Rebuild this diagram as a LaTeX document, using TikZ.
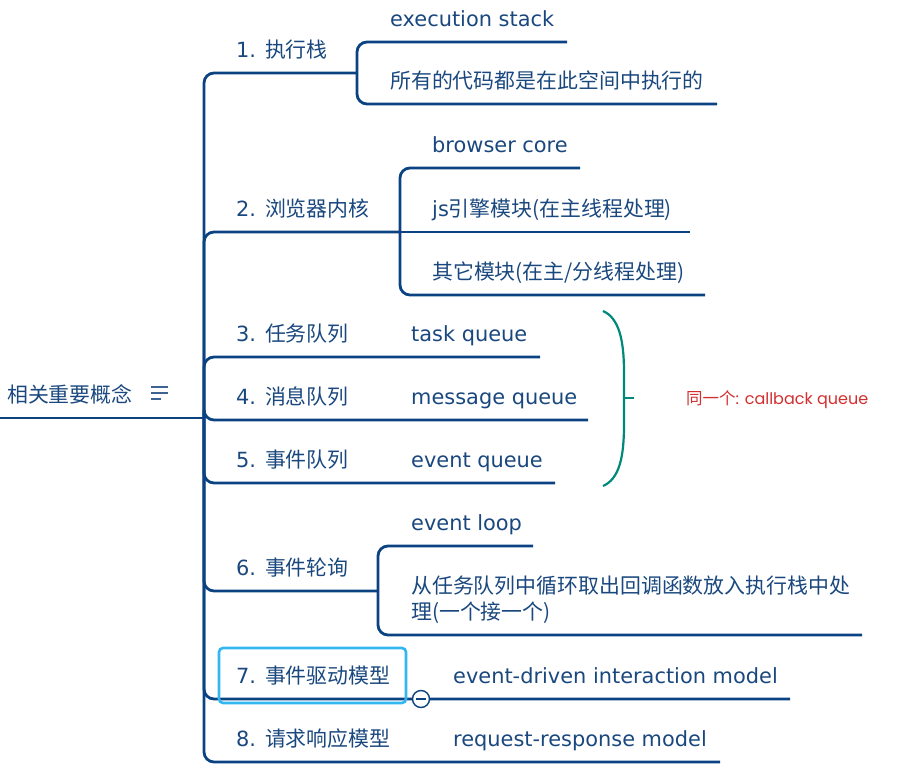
\documentclass[tikz,border=0pt]{standalone}
\usepackage{fontspec}
\setmainfont{DejaVu Sans}
\newfontfamily\cjk{Noto Sans CJK SC}
\newfontfamily\cmc{Poppins}

\begin{document}
\begin{tikzpicture}[x=1pt,y=-1pt]
\definecolor{linkblue}{RGB}{10,66,130}
\definecolor{txtblue}{RGB}{26,72,126}
\definecolor{hiblue}{RGB}{51,183,240}
\definecolor{braceteal}{RGB}{0,137,123}
\definecolor{notered}{RGB}{211,47,47}
\tikzset{
  lbl/.style={anchor=base west, inner sep=0pt, text=txtblue, font=\fontsize{20.9}{26}\selectfont},
  link/.style={draw=linkblue, line width=2.8pt, rounded corners=10pt},
  menuline/.style={draw=txtblue!85, line width=2.2pt},
  focus/.style={draw=hiblue, line width=2.6pt, rounded corners=4pt}
}
\useasboundingbox (0,0) rectangle (898,777);

% root
\node [lbl] (root) at (7,402) {\cjk 相关重要概念};
\draw [menuline] (151,387) -- (168,387);
\draw [menuline] (151,393) -- (168,393);
\draw [menuline] (151,399) -- (161,399);
\coordinate (hub) at (204,418);
\draw [link] (0,418) -- (hub);

% 1
\node [lbl] (b1) at (236,57) {1. {\cjk 执行栈}};
\coordinate (j1) at (357,73);
\draw [link] (hub) |- (j1);
\node [lbl] (c1a) at (390,26) {execution stack};
\node [lbl] (c1b) at (390,88) {\cjk 所有的代码都是在此空间中执行的};
\coordinate (e1a) at (567,42);
\coordinate (e1b) at (717,104);
\draw [link] (j1) |- (e1a);
\draw [link] (j1) |- (e1b);

% 2
\node [lbl] (b2) at (236,216) {2. {\cjk 浏览器内核}};
\coordinate (j2) at (400,232);
\draw [link] (hub) |- (j2);
\node [lbl] (c2a) at (432,152) {browser core};
\node [lbl] (c2b) at (432,216) {js{\cjk 引擎模块(在主线程处理)}};
\node [lbl] (c2c) at (432,279) {\cjk 其它模块(在主/分线程处理)};
\coordinate (e2a) at (580,168);
\coordinate (e2b) at (690,232);
\coordinate (e2c) at (705,295);
\draw [link] (j2) |- (e2a);
\draw [link] (j2) -- (e2b);
\draw [link] (j2) |- (e2c);

% 3 4 5
\node [lbl] (b3) at (236,341) {3. {\cjk 任务队列}};
\node [lbl] (c3) at (411,341) {task queue};
\coordinate (e3) at (540,357);
\draw [link] (hub) |- (e3);
\node [lbl] (b4) at (236,404) {4. {\cjk 消息队列}};
\node [lbl] (c4) at (411,404) {message queue};
\coordinate (e4) at (588,420);
\draw [link] (hub) |- (e4);
\node [lbl] (b5) at (236,467) {5. {\cjk 事件队列}};
\node [lbl] (c5) at (411,467) {event queue};
\coordinate (e5) at (555,483);
\draw [link] (hub) |- (e5);

% brace + note
\draw [braceteal, line width=2.2pt] (603,311) .. controls (619,318) and (624,340) .. (624,372)
  -- (624,425) .. controls (624,458) and (619,479) .. (603,486);
\coordinate (tip) at (624,398);
\coordinate (tick) at (634,398);
\draw [braceteal, line width=2.2pt] (tip) -- (tick);
\node [anchor=base west, inner sep=0pt, text=notered] (note) at (686,404)
  {{\fontsize{16.5}{18}\selectfont\cjk 同一个}{\fontsize{16}{18}\selectfont\cmc : callback queue}};

% 6
\node [lbl] (b6) at (236,575) {6. {\cjk 事件轮询}};
\coordinate (j6) at (378,591);
\draw [link] (hub) |- (j6);
\node [lbl] (c6a) at (411,530) {event loop};
\node [lbl] (c6b) at (411,593) {\cjk 从任务队列中循环取出回调函数放入执行栈中处};
\node [lbl] (c6c) at (411,619) {\cjk 理(一个接一个)};
\coordinate (e6a) at (533,546);
\coordinate (e6b) at (862,635);
\draw [link] (j6) |- (e6a);
\draw [link] (j6) |- (e6b);

% 7 8
\node [lbl] (b7) at (236,683) {7. {\cjk 事件驱动模型}};
\node [lbl] (c7) at (453,683) {event-driven interaction model};
\coordinate (e7) at (790,699);
\draw [link] (hub) |- (e7);
\node [lbl] (b8) at (236,746) {8. {\cjk 请求响应模型}};
\node [lbl] (c8) at (453,746) {request-response model};
\coordinate (e8) at (720,762);
\draw [link] (hub) |- (e8);

\draw [focus] (219,648) rectangle (406,703);
\node [circle, draw=linkblue, line width=1.4pt, fill=white, minimum size=17pt, inner sep=0pt] (fold) at (421,699) {};
\draw [linkblue, line width=1.4pt] ([xshift=-5pt]fold.center) -- ([xshift=5pt]fold.center);
\end{tikzpicture}
\end{document}
